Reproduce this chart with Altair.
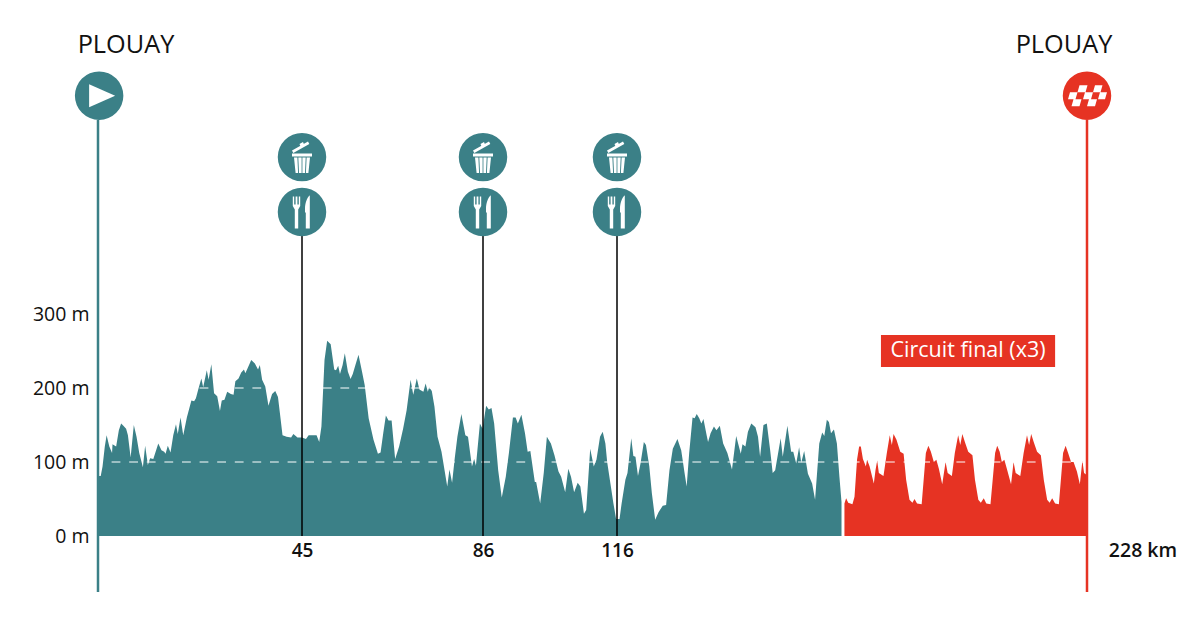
import altair as alt
import pandas as pd

# --- profile, main loop: (km, metres)
main_km = [0,0.6,1.0,1.5,1.9,2.5,3.1,3.2,4.0,4.6,5.1,5.6,6.2,6.6,7.2,7.9,8.5,9.1,9.9,10.4,11.0,11.5,12.2,13.3,14,14.6,14.9,15.4,16.0,16.6,17.2,17.6,18.2,18.8,19.6,20.6,21.2,21.6,22.2,22.8,23.2,24,24.4,25,25.6,26.3,26.9,27.3,27.9,28.5,29.3,29.9,30.3,31,31.6,32.2,32.5,33.1,33.8,34.6,35.3,35.7,36.2,36.9,37.6,38.4,39.1,39.7,40.3,40.7,41.6,42.6,43.1,44,45,45.9,46.5,47.7,48.3,48.9,49.4,50.1,50.7,51.5,52.3,52.7,53.2,53.6,54.2,54.7,55.4,56,56.5,57.1,57.8,58.6,59.2,60.1,61.2,62.2,62.8,63.4,64,64.6,65.3,66.1,67,67.9,68.7,69.6,70.2,71,71.6,72.5,73,73.5,73.8,74.4,75,75.7,76.6,77.9,78.4,79,79.6,80.2,81.1,82,82.6,83.5,84,84.4,85.3,85.9,86.7,87.3,87.9,88.5,89.4,90.2,91.1,91.8,92.7,93.3,93.8,94.6,95.4,96,96.6,97.6,97.9,98.8,99.6,100.3,101.2,102,102.9,103.5,104.4,105.1,105.7,106.4,107.2,107.8,108.6,109.1,110,110.8,111.4,112.2,112.8,113.4,113.8,114.4,115.2,115.8,116.6,117.1,118,118.5,119.4,119.9,120.4,121,121.6,122.4,122.9,123.7,124.3,125.1,125.9,126.9,127.7,128.5,129.3,130.4,131.3,132.1,132.6,133.2,134,134.5,135,135.6,136.1,136.6,137.4,137.7,138.3,139.1,139.7,140.5,141.3,142.3,143.4,144.4,145.5,145.9,146.6,147.2,148,149,149.6,150.1,150.9,151.7,152.5,153.1,153.7,155,155.5,156.6,157.5,158,158.7,159.4,159.9,160.6,161.5,162.5,163.2,164.2,164.9,165.4,166,166.5,167,167.7,168.4,169,169.5]
main_m = [81,81,94,121,136,121,112,124,121,143,152,149,145,136,106,150,134,112,93,122,96,105,104,125,116,114,111,122,113,136,151,138,160,136,160,183,182,186,200,213,201,224,211,232,193,189,169,183,184,195,192,191,209,213,221,225,220,228,238,233,225,231,211,202,176,192,196,188,157,136,134,133,138,133,133,131,136,136,136,127,148,238,264,259,225,224,230,219,231,247,222,212,219,231,245,222,204,159,130,111,113,139,163,156,156,104,121,145,170,211,191,213,198,195,206,195,201,196,175,134,114,67,90,72,105,134,165,136,134,94,104,95,152,145,176,171,173,152,89,52,80,112,160,160,152,164,139,114,115,73,73,44,85,134,125,109,87,80,59,91,80,59,72,67,30,35,118,94,103,134,141,125,100,76,44,23,23,44,76,85,132,108,107,81,98,127,123,94,58,22,32,41,42,89,118,131,116,85,67,112,160,159,165,159,152,158,135,127,139,148,143,149,125,112,90,135,111,124,121,141,152,147,134,107,150,152,116,85,89,132,107,149,114,114,98,120,99,115,84,71,49,125,140,135,157,154,139,144,125,80,46]

# --- profile, final circuit
final_km = [170.2,170.6,171.1,172.1,172.6,173.2,173.7,174.1,174.6,175.3,175.6,176.2,177.2,177.6,178,178.4,179.5,180.3,181,181.5,181.9,182.6,183.5,184.3,184.9,185.7,186.4,186.9,187.5,188.6,189.6,190.2,190.8,191.5,192.1,192.7,193.5,194.3,194.8,195.8,196.5,197.3,197.8,198.3,198.9,199.7,200.7,201.3,202.1,202.7,203.4,204,205,206.1,206.6,207.2,207.7,208.3,208.9,209.9,210.5,211,212.1,212.9,213.7,214.2,214.7,215.3,216.1,217,217.7,218.5,219.1,219.7,220.4,221.3,222.3,222.9,223.5,224.2,224.8,225.6,226.3,226.9,227.3,228]
final_m = [44,51,45,43,53,103,121,121,104,94,103,94,71,89,102,85,81,112,136,123,138,130,114,111,76,49,45,50,44,43,112,122,114,100,103,91,70,100,85,81,112,136,123,138,127,114,109,76,49,45,51,44,43,112,122,114,100,103,91,70,100,85,81,112,136,123,138,127,114,109,76,49,45,51,44,43,112,122,112,100,100,87,70,102,85,82]

km_anchor = [0, 45, 86, 116, 228]
y_ticks = [0, 100, 200, 300]
stop_km = [45, 86, 116]
START_KM, END_KM = 0, 228
TEAL, RED, INK = "#3b8087", "#e63323", "#111111"
FONT = "Open Sans"

x_scale = alt.Scale(domain=km_anchor, range=[0, 204, 385, 519, 989])
y_scale = alt.Scale(domain=[0, 694.6], nice=False, zero=True)
X = alt.X("km:Q", scale=x_scale, title=None,
          axis=alt.Axis(values=stop_km, grid=False, domain=False, ticks=False,
                        labelFontSize=19, labelFontWeight=600, labelColor=INK,
                        labelPadding=5, labelFont=FONT, labelOverlap=False))
Y = alt.Y("m:Q", scale=y_scale, title=None,
          axis=alt.Axis(values=y_ticks, grid=False, domain=False, ticks=False,
                        labelFontSize=19.5, labelColor=INK, labelPadding=9, labelFont=FONT,
                        labelExpr="datum.value + ' m'"))

area_main = alt.Chart(pd.DataFrame({"km": main_km, "m": main_m})).mark_area(color=TEAL, interpolate="linear").encode(x=X, y=Y)
area_final = alt.Chart(pd.DataFrame({"km": final_km, "m": final_m})).mark_area(color=RED, interpolate="linear").encode(x=X, y=Y)

dashes = alt.Chart(pd.DataFrame({"km": [3, 3], "km2": [228, 228], "m": [100, 200]})).mark_rule(
    color="white", strokeWidth=1, strokeDash=[8.8, 8.8]
).encode(x=X, x2="km2:Q", y=Y)

stops = alt.Chart(pd.DataFrame({"km": stop_km, "m": [407] * 3, "m2": [0] * 3})).mark_rule(
    color="black", strokeWidth=1.5).encode(x=X, y=Y, y2="m2:Q")
ends = alt.Chart(pd.DataFrame({"km": [START_KM, END_KM], "m": [562, 562], "m2": [-75.7, -75.7], "c": [TEAL, RED]})).mark_rule(
    strokeWidth=2.5).encode(x=X, y=Y, y2="m2:Q", color=alt.Color("c:N", scale=None))

circle_df = pd.DataFrame({
    "km": [0.25, 228] + stop_km * 2,
    "m": [595, 595] + [512] * 3 + [438] * 3,
    "c": [TEAL, RED] + [TEAL] * 6,
})
circles = alt.Chart(circle_df).mark_point(filled=True, size=2350, opacity=1).encode(
    x=X, y=Y, color=alt.Color("c:N", scale=None))

# icon outlines: with size=4 one path unit is one pixel
PLAY = "M-10,-11.5L16,0L-10,11.5Z"
FLAG = ("M-9.5,-3.5L-7.5,-10.5L0.5,-10.5L-1.5,-3.5Z M6,-3.5L8,-10.5L15.5,-10.5L13.5,-3.5Z "
        "M-19,3.5L-17,-3.5L-9.5,-3.5L-11.5,3.5Z M-4,3.5L-2,-3.5L6,-3.5L4,3.5Z M11,3.5L13,-3.5L20,-3.5L18,3.5Z "
        "M-15.5,10.5L-13.5,3.5L-5.5,3.5L-7.5,10.5Z M0,10.5L2,3.5L10,3.5L8,10.5Z")
TRASH = ("M-10,-6.5L6,-15.5L7.3,-13.2L-8.7,-4.2Z M-1.5,-10.5L-2.5,-13L1,-15L2,-12.5Z "
         "M-10,-3.5L10,-3.5L10,-0.7L-10,-0.7Z "
         "M-8,0.3L-4.6,0.3L-3.9,16L-6.4,16Z M-3.7,0.3L-0.4,0.3L-0.4,16L-3,16Z "
         "M0.4,0.3L3.7,0.3L3,16L0.4,16Z M4.6,0.3L8,0.3L6.4,16L3.9,16Z")
CUTLERY = ("M-9.2,-15.5L-7.8,-15.5L-7.8,-7.5L-6.4,-7.5L-6.4,-15.5L-4.6,-15.5L-4.6,-7.5L-3.2,-7.5L-3.2,-15.5L-1.8,-15.5"
           "L-1.8,-6L-3.8,-2.5L-3.8,16.5L-7.2,16.5L-7.2,-2.5L-9.2,-6Z "
           "M7.5,-16.5C5,-14 3,-9 3,-3L3,0L3.8,1L3.8,16.5L7.8,16.5L7.8,-16.5Z")

def icon(path, kms, m):
    return alt.Chart(pd.DataFrame({"km": kms, "m": [m] * len(kms)})).mark_point(
        shape=path, size=4, filled=True, color="white", opacity=1, strokeWidth=0
    ).encode(x=X, y=Y)

glyphs = [icon(PLAY, [0.25], 595), icon(FLAG, [228], 595),
          icon(TRASH, stop_km, 512), icon(CUTLERY, stop_km, 438)]

def town(km, dx):
    return alt.Chart(pd.DataFrame({"km": [km], "m": [663.5], "t": ["PLOUAY"]})).mark_text(
        font=FONT, fontSize=25.3, color=INK, baseline="middle", dx=dx
    ).encode(x=X, y=Y, text="t:N")

towns = [town(START_KM, 28), town(END_KM, -23)]

banner = alt.Chart(pd.DataFrame({"km": [178.9], "km2": [220.4], "m": [271.6], "m2": [228.4]})).mark_rect(color=RED).encode(
    x=X, x2="km2:Q", y=Y, y2="m2:Q")
banner_text = alt.Chart(pd.DataFrame({"km": [199.65], "m": [250], "t": ["Circuit final (x3)"]})).mark_text(
    font=FONT, fontSize=21.5, color="white", baseline="middle").encode(x=X, y=Y, text="t:N")
end_label = alt.Chart(pd.DataFrame({"km": [END_KM], "m": [-20.3], "t": ["228 km"]})).mark_text(
    font=FONT, fontSize=19.5, fontWeight=600, color=INK, baseline="middle", dx=56).encode(x=X, y=Y, text="t:N")

chart = alt.layer(area_main, area_final, dashes, stops, ends, circles, *glyphs, *towns, banner, banner_text, end_label).properties(
    width=989, height=514, background="white",
    padding={"left": 90, "top": 14, "right": 105, "bottom": 90},
    autosize=alt.AutoSizeParams(type="none"),
).configure_view(stroke=None)

chart.save("out.html", embed_options={"renderer": "svg", "actions": False})
